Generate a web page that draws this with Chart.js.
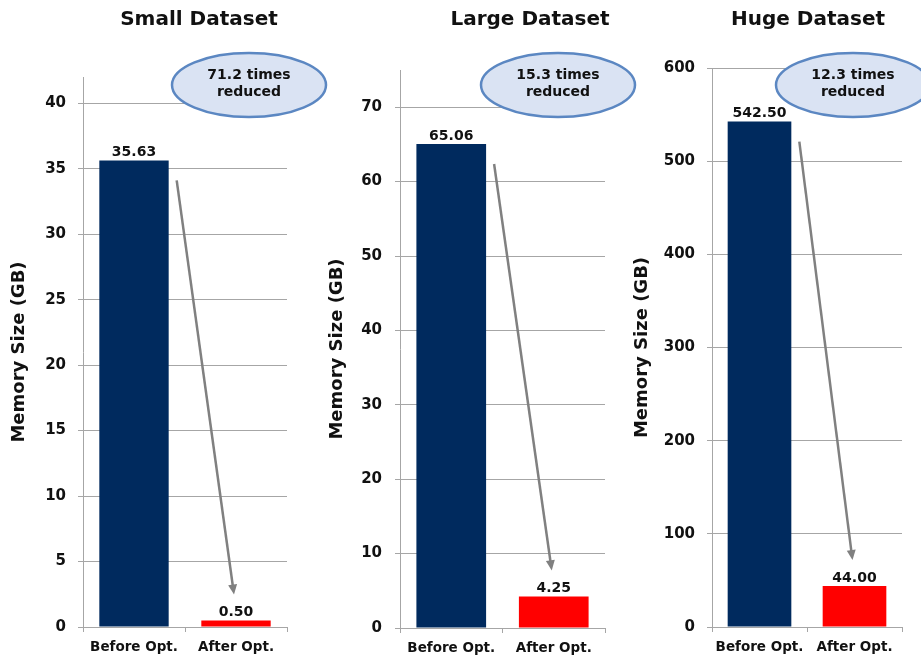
<!DOCTYPE html>
<html>
<head>
<meta charset="utf-8">
<script src="https://cdn.jsdelivr.net/npm/chart.js@4/dist/chart.umd.min.js"></script>
<style>
  html, body { margin: 0; padding: 0; background: #ffffff; }
  #wrap { position: relative; width: 921px; height: 660px; overflow: hidden; }
  #wrap canvas { position: absolute; left: 0; top: 0; }
</style>
</head>
<body>
<div id="wrap">
  <canvas id="c0" width="921" height="660"></canvas>
  <canvas id="c1" width="921" height="660"></canvas>
  <canvas id="c2" width="921" height="660"></canvas>
</div>
<script>
// ---- data ----
const categories = ['Before Opt.', 'After Opt.'];
const smallValues = [35.63, 0.50];
const largeValues = [65.06, 4.25];
const hugeValues = [542.50, 44.00];
const panelTitles = ['Small Dataset', 'Large Dataset', 'Huge Dataset'];
const reductionNotes = [['71.2 times', 'reduced'], ['15.3 times', 'reduced'], ['12.3 times', 'reduced']];
const axisMax = [42, 75, 600];
const axisStep = [5, 10, 100];
const yAxisTitle = 'Memory Size (GB)';

// ---- look ----
const FONT = '"DejaVu Sans", Verdana, sans-serif';
const INK = '#111111';
const GRID = '#a6a6a6';
const BAR_COLORS = ['#002a5e', '#ff0000'];

// panel placement on the shared 921x660 page
const panels = [
  { values: smallValues, axisX: 83,  right: 287, top: 77, bottom: 627, yW: 78, tickPad: 12, barPct: 0.68,
    titleX: 199, noteX: 249 },
  { values: largeValues, axisX: 400, right: 605, top: 70, bottom: 628, yW: 77, tickPad: 13, barPct: 0.68,
    titleX: 530, noteX: 558 },
  { values: hugeValues,  axisX: 712, right: 902, top: 68, bottom: 627, yW: 84, tickPad: 12, barPct: 0.67,
    titleX: 808, noteX: 853 }
];

// title, callout ellipse, value labels and the reduction arrow
const decorPlugin = {
  id: 'decor',
  afterDatasetsDraw(chart, args, opts) {
    const ctx = chart.ctx;
    const meta = chart.getDatasetMeta(0);
    const vals = chart.data.datasets[0].data;
    ctx.save();

    // value labels above bars
    ctx.fillStyle = INK;
    ctx.font = 'bold 14px ' + FONT;
    ctx.textAlign = 'center';
    ctx.textBaseline = 'bottom';
    meta.data.forEach((bar, i) => {
      ctx.fillText(vals[i].toFixed(2), bar.x, bar.y - 1);
    });

    // arrow from the first bar down to the second
    const b0 = meta.data[0], b1 = meta.data[1];
    const x0 = b0.x + b0.width / 2 + 8, y0 = b0.y + 20;
    const x1 = b1.x - 2, y1 = b1.y - 26;
    const ang = Math.atan2(y1 - y0, x1 - x0);
    const headLen = 10, headHalf = 4.5;
    ctx.strokeStyle = '#808080';
    ctx.fillStyle = '#808080';
    ctx.lineWidth = 2.5;
    ctx.beginPath();
    ctx.moveTo(x0, y0);
    ctx.lineTo(x1 - Math.cos(ang) * (headLen - 2), y1 - Math.sin(ang) * (headLen - 2));
    ctx.stroke();
    ctx.beginPath();
    ctx.moveTo(x1, y1);
    ctx.lineTo(x1 - Math.cos(ang) * headLen - Math.sin(ang) * headHalf,
               y1 - Math.sin(ang) * headLen + Math.cos(ang) * headHalf);
    ctx.lineTo(x1 - Math.cos(ang) * headLen + Math.sin(ang) * headHalf,
               y1 - Math.sin(ang) * headLen - Math.cos(ang) * headHalf);
    ctx.closePath();
    ctx.fill();

    // panel title
    ctx.fillStyle = INK;
    ctx.font = 'bold 20px ' + FONT;
    ctx.textBaseline = 'middle';
    ctx.fillText(opts.title, opts.titleX, 20);

    // callout ellipse
    ctx.beginPath();
    ctx.ellipse(opts.noteX, 85, 77, 32, 0, 0, Math.PI * 2);
    ctx.fillStyle = '#dae3f3';
    ctx.fill();
    ctx.lineWidth = 2.5;
    ctx.strokeStyle = '#5b87c2';
    ctx.stroke();
    ctx.fillStyle = INK;
    ctx.font = 'bold 14px ' + FONT;
    ctx.fillText(opts.note[0], opts.noteX, 75);
    ctx.fillText(opts.note[1], opts.noteX, 92);

    ctx.restore();
  }
};

panels.forEach((p, i) => {
  const xH = 660 - p.bottom;
  new Chart(document.getElementById('c' + i), {
    type: 'bar',
    data: {
      labels: categories,
      datasets: [{
        data: p.values,
        backgroundColor: BAR_COLORS,
        borderWidth: 0,
        barPercentage: p.barPct,
        categoryPercentage: 1
      }]
    },
    plugins: [decorPlugin],
    options: {
      responsive: false,
      animation: false,
      events: [],
      layout: {
        padding: { left: p.axisX - p.yW, right: 921 - p.right, top: p.top, bottom: 0 }
      },
      plugins: {
        legend: { display: false },
        tooltip: { enabled: false },
        title: { display: false },
        decor: { title: panelTitles[i], titleX: p.titleX, note: reductionNotes[i], noteX: p.noteX }
      },
      scales: {
        x: {
          afterFit(scale) { scale.height = xH; },
          grid: { display: true, drawOnChartArea: false, drawTicks: true, tickLength: 5, color: GRID, lineWidth: 1 },
          border: { display: true, color: GRID, width: 1 },
          ticks: { color: INK, font: { family: FONT, weight: 'bold', size: 13.5 }, padding: 7, maxRotation: 0 }
        },
        y: {
          min: 0,
          max: axisMax[i],
          afterFit(scale) { scale.width = p.yW; },
          grid: { color: GRID, lineWidth: 1, tickLength: 5, drawTicks: true },
          border: { display: true, color: GRID, width: 1 },
          ticks: {
            stepSize: axisStep[i],
            includeBounds: false,
            color: INK,
            padding: p.tickPad,
            font: { family: FONT, weight: 'bold', size: 15 }
          },
          title: {
            display: true,
            text: yAxisTitle,
            color: INK,
            padding: { top: 4, bottom: 4 },
            font: { family: FONT, weight: 'bold', size: 18 }
          }
        }
      }
    }
  });
});
</script>
</body>
</html>
